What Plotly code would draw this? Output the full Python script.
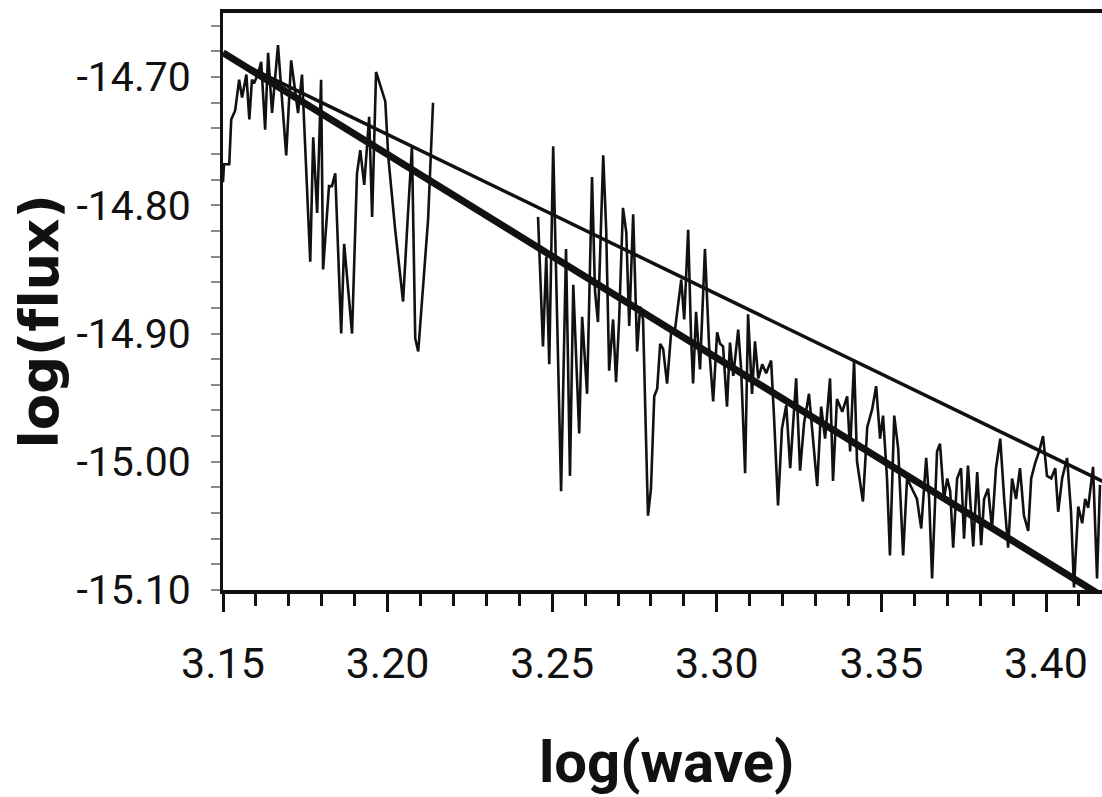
import plotly.graph_objects as go

# ---- data ----
spec_x = [
    3.1500, 3.1503, 3.1519, 3.1525, 3.1537, 3.1549, 3.1558, 3.1571, 3.1580, 3.1588,
    3.1594, 3.1607, 3.1616, 3.1628, 3.1637, 3.1649, 3.1667, 3.1692, 3.1707, 3.1728,
    3.1740, 3.1765, 3.1774, 3.1786, 3.1798, 3.1804, 3.1822, 3.1831, 3.1841, 3.1859,
    3.1868, 3.1892, 3.1907, 3.1917, 3.1929, 3.1944, 3.1953, 3.1965, 3.1993, 3.2002,
    3.2023, 3.2047, 3.2062, 3.2074, 3.2084, 3.2093, 3.2123, 3.2138,
    None,
    3.2457, 3.2472, 3.2482, 3.2491, 3.2503, 3.2512, 3.2527, 3.2542, 3.2554, 3.2564,
    3.2582, 3.2591, 3.2606, 3.2621, 3.2630, 3.2639, 3.2655, 3.2664, 3.2673, 3.2685,
    3.2694, 3.2703, 3.2715, 3.2725, 3.2734, 3.2746, 3.2758, 3.2767, 3.2776, 3.2785,
    3.2791, 3.2800, 3.2810, 3.2819, 3.2828, 3.2837, 3.2849, 3.2861, 3.2873, 3.2892,
    3.2901, 3.2913, 3.2922, 3.2928, 3.2937, 3.2949, 3.2964, 3.2977, 3.2989, 3.3001,
    3.3010, 3.3019, 3.3031, 3.3040, 3.3050, 3.3065, 3.3074, 3.3086, 3.3095, 3.3107,
    3.3116, 3.3126, 3.3138, 3.3150, 3.3165, 3.3174, 3.3186, 3.3198, 3.3211, 3.3223,
    3.3232, 3.3241, 3.3253, 3.3265, 3.3280, 3.3293, 3.3305, 3.3317, 3.3329, 3.3344,
    3.3353, 3.3365, 3.3381, 3.3396, 3.3405, 3.3417, 3.3426, 3.3444, 3.3457, 3.3472,
    3.3484, 3.3496, 3.3505, 3.3517, 3.3526, 3.3539, 3.3551, 3.3566, 3.3578, 3.3593,
    3.3608, 3.3621, 3.3636, 3.3645, 3.3654, 3.3669, 3.3678, 3.3690, 3.3700, 3.3709,
    3.3718, 3.3730, 3.3742, 3.3751, 3.3763, 3.3779, 3.3791, 3.3803, 3.3812, 3.3824,
    3.3836, 3.3848, 3.3861, 3.3873, 3.3885, 3.3897, 3.3909, 3.3921, 3.3933, 3.3946,
    3.3955, 3.3967, 3.3979, 3.3991, 3.4003, 3.4016, 3.4028, 3.4037, 3.4049, 3.4064,
    3.4076, 3.4085, 3.4098, 3.4110, 3.4119, 3.4128, 3.4143, 3.4155, 3.4164,
]
spec_y = [
    -14.782, -14.768, -14.768, -14.733, -14.726, -14.702, -14.716, -14.698, -14.733, -14.702,
    -14.705, -14.697, -14.688, -14.741, -14.681, -14.728, -14.675, -14.761, -14.687, -14.728,
    -14.698, -14.844, -14.747, -14.806, -14.702, -14.850, -14.785, -14.785, -14.775, -14.900,
    -14.830, -14.900, -14.775, -14.757, -14.784, -14.731, -14.809, -14.696, -14.719, -14.762,
    -14.819, -14.875, -14.806, -14.754, -14.904, -14.914, -14.811, -14.720,
    None,
    -14.809, -14.910, -14.840, -14.924, -14.754, -14.852, -15.023, -14.834, -15.011, -14.862,
    -14.978, -14.887, -14.947, -14.778, -14.867, -14.891, -14.761, -14.819, -14.929, -14.889,
    -14.938, -14.891, -14.802, -14.821, -14.894, -14.807, -14.914, -14.879, -14.889, -14.982,
    -15.042, -15.021, -14.949, -14.943, -14.908, -14.912, -14.939, -14.900, -14.897, -14.858,
    -14.889, -14.819, -14.904, -14.939, -14.883, -14.928, -14.834, -14.912, -14.953, -14.899,
    -14.908, -14.910, -14.957, -14.907, -14.933, -14.897, -14.928, -15.009, -14.885, -14.947,
    -14.906, -14.935, -14.924, -14.931, -14.921, -14.966, -15.034, -14.974, -14.956, -15.005,
    -14.966, -14.935, -15.007, -14.970, -14.947, -14.982, -15.019, -14.957, -14.982, -14.935,
    -15.015, -14.951, -14.961, -14.949, -14.992, -14.921, -15.000, -15.031, -14.973, -14.959,
    -14.941, -14.982, -14.964, -15.013, -15.073, -14.964, -14.990, -15.073, -15.013, -15.021,
    -15.029, -15.052, -14.997, -15.029, -15.091, -14.992, -14.986, -15.029, -15.013, -15.023,
    -15.067, -15.013, -15.005, -15.060, -15.003, -15.066, -15.008, -15.065, -15.029, -15.021,
    -15.052, -15.005, -14.982, -15.029, -15.067, -15.013, -15.029, -15.005, -15.042, -15.054,
    -15.013, -15.001, -14.992, -14.980, -15.011, -15.013, -15.005, -15.039, -15.013, -14.997,
    -15.039, -15.098, -15.035, -15.048, -15.029, -15.036, -15.004, -15.091, -15.018,
]

# straight fitted lines (end points)
fit_steep_x = [3.15, 3.42]
fit_steep_y = [-14.681, -15.1095]
fit_shallow_x = [3.15, 3.42]
fit_shallow_y = [-14.6825, -15.0187]

x_tick_vals = [3.15, 3.20, 3.25, 3.30, 3.35, 3.40]
x_tick_text = ["3.15", "3.20", "3.25", "3.30", "3.35", "3.40"]
y_tick_vals = [-15.10, -15.00, -14.90, -14.80, -14.70]
y_tick_text = ["-15.10", "-15.00", "-14.90", "-14.80", "-14.70"]

x_title = "log(wave)"
y_title = "log(f\u200cl ux)".replace(" ", "")

# ---- figure ----
W, H = 1102, 797
ml, mr, mt, mb = 223, 0, 13, 207

fig = go.Figure()
fig.add_trace(go.Scatter(x=spec_x, y=spec_y, mode="lines",
                         line=dict(color="#111111", width=2.6),
                         connectgaps=False, showlegend=False, hoverinfo="skip"))
fig.add_trace(go.Scatter(x=fit_shallow_x, y=fit_shallow_y, mode="lines",
                         line=dict(color="#111111", width=3.5),
                         showlegend=False, hoverinfo="skip"))
fig.add_trace(go.Scatter(x=fit_steep_x, y=fit_steep_y, mode="lines",
                         line=dict(color="#111111", width=7),
                         showlegend=False, hoverinfo="skip"))

fig.update_layout(
    width=W, height=H,
    margin=dict(l=ml, r=mr, t=mt, b=mb, pad=0),
    paper_bgcolor="white", plot_bgcolor="white",
    xaxis=dict(
        range=[3.15, 3.15 + (W - ml - mr) / 3292.0],
        showgrid=False, zeroline=False,
        showline=True, linecolor="#111111", linewidth=4, mirror=True,
        ticks="outside", ticklen=18, tickwidth=3, tickcolor="#111111",
        tickvals=x_tick_vals, ticktext=x_tick_text,
        tickfont=dict(family="Roboto, sans-serif", size=43, color="#111111"),
        ticklabelstandoff=14,
        minor=dict(ticks="outside", dtick=0.01, tick0=3.15, ticklen=12,
                   tickwidth=2.5, tickcolor="#111111", showgrid=False),
    ),
    yaxis=dict(
        range=[-15.10, -14.65],
        showgrid=False, zeroline=False,
        showline=True, linecolor="#111111", linewidth=3,
        ticks="outside", ticklen=9, tickwidth=1.5, tickcolor="#888888",
        tickvals=y_tick_vals, ticktext=y_tick_text,
        tickfont=dict(family="Roboto, sans-serif", size=41, color="#111111"),
        ticklabelstandoff=12,
        minor=dict(ticks="outside", dtick=0.02, tick0=-14.70, ticklen=9,
                   tickwidth=1.5, tickcolor="#888888", showgrid=False),
    ),
    annotations=[
        dict(text=x_title, xref="paper", yref="paper", x=0.504, y=-0.236,
             xanchor="center", yanchor="top", showarrow=False,
             font=dict(family="Roboto, sans-serif", size=58,
                       color="#111111", weight="bold")),
        dict(text=y_title, xref="paper", yref="paper", x=-0.209, y=0.466,
             xanchor="center", yanchor="middle", showarrow=False, textangle=-90,
             font=dict(family="DejaVu Sans, sans-serif", size=53,
                       color="#111111", weight="bold")),
    ],
)

fig.write_html("out.html",
               config={"displayModeBar": False},
               post_script="document.body.style.margin='0';document.body.style.overflow='hidden';")
